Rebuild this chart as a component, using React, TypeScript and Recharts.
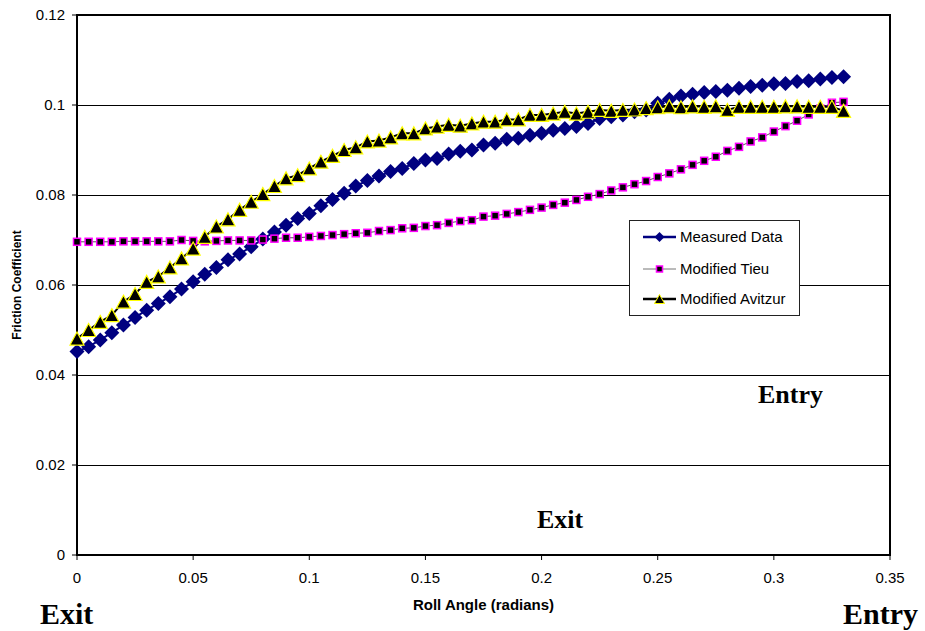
import React from 'react';
import { CartesianGrid, Label, Legend, Line, LineChart, ReferenceArea, XAxis, YAxis } from 'recharts';

// roll angle (radians), one reading every 0.005 rad
const rollAngle = [
  0, 0.005, 0.01, 0.015, 0.02, 0.025, 0.03, 0.035, 0.04, 0.045,
  0.05, 0.055, 0.06, 0.065, 0.07, 0.075, 0.08, 0.085, 0.09, 0.095,
  0.1, 0.105, 0.11, 0.115, 0.12, 0.125, 0.13, 0.135, 0.14, 0.145,
  0.15, 0.155, 0.16, 0.165, 0.17, 0.175, 0.18, 0.185, 0.19, 0.195,
  0.2, 0.205, 0.21, 0.215, 0.22, 0.225, 0.23, 0.235, 0.24, 0.245,
  0.25, 0.255, 0.26, 0.265, 0.27, 0.275, 0.28, 0.285, 0.29, 0.295,
  0.3, 0.305, 0.31, 0.315, 0.32, 0.325, 0.33,
];

const measuredData = [
  0.0452, 0.0463, 0.0478, 0.0494, 0.0511, 0.0528, 0.0544, 0.0559, 0.0574, 0.0591,
  0.0607, 0.0624, 0.0639, 0.0656, 0.0669, 0.0685, 0.0702, 0.0718, 0.0733, 0.0748,
  0.0759, 0.0776, 0.079, 0.0804, 0.082, 0.0832, 0.0842, 0.0852, 0.0859, 0.087,
  0.0878, 0.0881, 0.0891, 0.0897, 0.09, 0.0911, 0.0915, 0.0924, 0.0926, 0.0933,
  0.0937, 0.0944, 0.0948, 0.0952, 0.0959, 0.097, 0.0974, 0.0978, 0.0985, 0.0989,
  0.1004, 0.1013, 0.102, 0.1024, 0.1028, 0.103, 0.1033, 0.1037, 0.1041, 0.1044,
  0.1047, 0.1048, 0.1052, 0.1054, 0.1058, 0.1061, 0.1063,
];

const modifiedTieu = [
  0.0696, 0.0696, 0.0696, 0.0696, 0.0697, 0.0697, 0.0697, 0.0697, 0.0697, 0.07,
  0.0698, 0.0697, 0.0698, 0.0699, 0.0699, 0.0699, 0.0701, 0.0703, 0.0705, 0.0705,
  0.0707, 0.0709, 0.0711, 0.0713, 0.0715, 0.0716, 0.072, 0.0722, 0.0726, 0.0727,
  0.0731, 0.0733, 0.0738, 0.0742, 0.0744, 0.0752, 0.0754, 0.0758, 0.0762, 0.0767,
  0.0772, 0.0778, 0.0783, 0.0789, 0.0796, 0.0802, 0.081, 0.0817, 0.0824, 0.0831,
  0.084, 0.0848, 0.0857, 0.0867, 0.0876, 0.0885, 0.0898, 0.0907, 0.0919, 0.0928,
  0.0941, 0.0953, 0.0965, 0.0979, 0.0992, 0.1005, 0.1007,
];

const modifiedAvitzur = [
  0.0481, 0.05, 0.0518, 0.0533, 0.0563, 0.058, 0.0607, 0.0619, 0.0639, 0.0659,
  0.0681, 0.0707, 0.073, 0.0746, 0.0767, 0.0785, 0.0802, 0.082, 0.0837, 0.0844,
  0.0859, 0.0874, 0.0887, 0.09, 0.0906, 0.0919, 0.0921, 0.0928, 0.0937, 0.0937,
  0.0948, 0.0952, 0.0956, 0.0954, 0.0959, 0.0963, 0.0963, 0.0968, 0.0968, 0.0978,
  0.0978, 0.0981, 0.0985, 0.0981, 0.0985, 0.0989, 0.0987, 0.0989, 0.099, 0.0993,
  0.0995, 0.0997, 0.0995, 0.0997, 0.0996, 0.0997, 0.0989, 0.0996, 0.0996, 0.0996,
  0.0996, 0.0997, 0.0997, 0.0996, 0.0996, 0.0996, 0.0987,
];

const xTicks = [0, 0.05, 0.1, 0.15, 0.2, 0.25, 0.3, 0.35];
const yTicks = [0, 0.02, 0.04, 0.06, 0.08, 0.1, 0.12];

const seriesNames = ['Measured Data', 'Modified Tieu', 'Modified Avitzur'];

const data = rollAngle.map((x, i) => ({
  x,
  measured: measuredData[i],
  tieu: modifiedTieu[i],
  avitzur: modifiedAvitzur[i],
}));

const SANS = '"Liberation Sans", Arial, sans-serif';
const SERIF = '"Liberation Serif", "Times New Roman", serif';

const diamond = (cx, cy, r) => `${cx},${cy - r} ${cx + r},${cy} ${cx},${cy + r} ${cx - r},${cy}`;
const triangle = (cx, cy, w, h) =>
  `${cx},${cy - h / 2} ${cx + w / 2},${cy + h / 2} ${cx - w / 2},${cy + h / 2}`;

const renderDiamond = (props) => {
  const { cx, cy, index } = props;
  if (cx == null || cy == null) return <g key={`md-${index}`} />;
  return <polygon key={`md-${index}`} points={diamond(cx, cy, 7.5)} fill="#000080" />;
};

const renderSquare = (props) => {
  const { cx, cy, index } = props;
  if (cx == null || cy == null) return <g key={`mt-${index}`} />;
  return (
    <rect key={`mt-${index}`} x={cx - 3.5} y={cy - 3.5} width={7} height={7}
      fill="#000" stroke="#ff00ff" strokeWidth={1.5} />
  );
};

const renderTriangle = (props) => {
  const { cx, cy, index } = props;
  if (cx == null || cy == null) return <g key={`ma-${index}`} />;
  return (
    <polygon key={`ma-${index}`} points={triangle(cx, cy, 14, 13)}
      fill="#000" stroke="#ffff00" strokeWidth={1.2} />
  );
};

function LegendBox() {
  const rows = [17, 49, 79];
  return (
    <svg width={171} height={96} style={{ display: 'block' }}>
      <rect x={0.5} y={0.5} width={170} height={95} fill="#fff" stroke="#222" />
      <line x1={14} x2={47} y1={rows[0]} y2={rows[0]} stroke="#000080" strokeWidth={2.5} />
      <polygon points={diamond(30.5, rows[0], 5)} fill="#000080" />
      <line x1={14} x2={47} y1={rows[1]} y2={rows[1]} stroke="#777" strokeWidth={1} />
      <rect x={27.5} y={rows[1] - 3} width={6} height={6} fill="#000" stroke="#ff00ff" strokeWidth={1.5} />
      <line x1={14} x2={47} y1={rows[2]} y2={rows[2]} stroke="#000" strokeWidth={2.5} />
      <polygon points={triangle(30.5, rows[2], 10, 9)} fill="#000" stroke="#ffff00" strokeWidth={1} />
      {seriesNames.map((name, i) => (
        <text key={name} x={51} y={rows[i] + 5.3} fontFamily={SANS} fontSize={15} fill="#000">
          {name}
        </text>
      ))}
    </svg>
  );
}

const renderXTitle = (props) => {
  const vb = props.viewBox || { x: 77, y: 555, width: 813, height: 76 };
  return (
    <text x={vb.x + vb.width / 2} y={vb.y + 55} textAnchor="middle"
      fontFamily={SANS} fontSize={15} fontWeight="bold" fill="#000">
      Roll Angle (radians)
    </text>
  );
};

const renderYTitle = (props) => {
  const vb = props.viewBox || { x: 0, y: 15, width: 77, height: 540 };
  const x = vb.x + 21;
  const y = vb.y + vb.height / 2;
  return (
    <text x={x} y={y} transform={`rotate(-90, ${x}, ${y})`} textAnchor="middle"
      fontFamily={SANS} fontSize={12} fontWeight="bold" fill="#000">
      Friction Coefficient
    </text>
  );
};

export default function App() {
  const tick = { fill: '#000', fontSize: 15, fontFamily: SANS };
  return (
    <div style={{ position: 'absolute', left: 0, top: 0, width: 925, height: 631, background: '#fff' }}>
      <LineChart
        width={925}
        height={631}
        data={data}
        margin={{ top: 15, right: 35, left: 0, bottom: 0 }}
      >
        <CartesianGrid vertical={false} stroke="#000" strokeWidth={1} shapeRendering="crispEdges" />
        <ReferenceArea x1={0} x2={0.35} y1={0} y2={0.12} fill="none" stroke="#000" strokeWidth={2} />
        <XAxis
          dataKey="x"
          type="number"
          domain={[0, 0.35]}
          ticks={xTicks}
          interval={0}
          height={76}
          tick={tick}
          tickSize={5}
          tickMargin={12}
          axisLine={{ stroke: '#000', strokeWidth: 2 }}
          tickLine={{ stroke: '#000' }}
        >
          <Label content={renderXTitle} />
        </XAxis>
        <YAxis
          type="number"
          domain={[0, 0.12]}
          ticks={yTicks}
          interval={0}
          width={77}
          tick={tick}
          tickSize={5}
          tickMargin={7}
          axisLine={{ stroke: '#000', strokeWidth: 2 }}
          tickLine={{ stroke: '#000' }}
        >
          <Label content={renderYTitle} />
        </YAxis>
        <Legend
          layout="vertical"
          align="center"
          verticalAlign="middle"
          content={() => <LegendBox />}
          wrapperStyle={{ left: 629, top: 220, width: 171, height: 96 }}
        />
        <Line
          dataKey="measured"
          name={seriesNames[0]}
          stroke="#000080"
          strokeWidth={2}
          dot={renderDiamond}
          activeDot={false}
          isAnimationActive={false}
        />
        <Line
          dataKey="tieu"
          name={seriesNames[1]}
          stroke="#555"
          strokeWidth={1}
          dot={renderSquare}
          activeDot={false}
          isAnimationActive={false}
        />
        <Line
          dataKey="avitzur"
          name={seriesNames[2]}
          stroke="#000"
          strokeWidth={2}
          dot={renderTriangle}
          activeDot={false}
          isAnimationActive={false}
        />
      </LineChart>
      <svg width={925} height={631} style={{ position: 'absolute', left: 0, top: 0, pointerEvents: 'none' }}>
        <g fontFamily={SERIF} fontWeight="bold" fill="#000">
          <text x={758} y={403} fontSize={26}>Entry</text>
          <text x={537} y={528} fontSize={26}>Exit</text>
          <text x={40} y={624} fontSize={30}>Exit</text>
          <text x={843} y={624} fontSize={30}>Entry</text>
        </g>
      </svg>
    </div>
  );
}
